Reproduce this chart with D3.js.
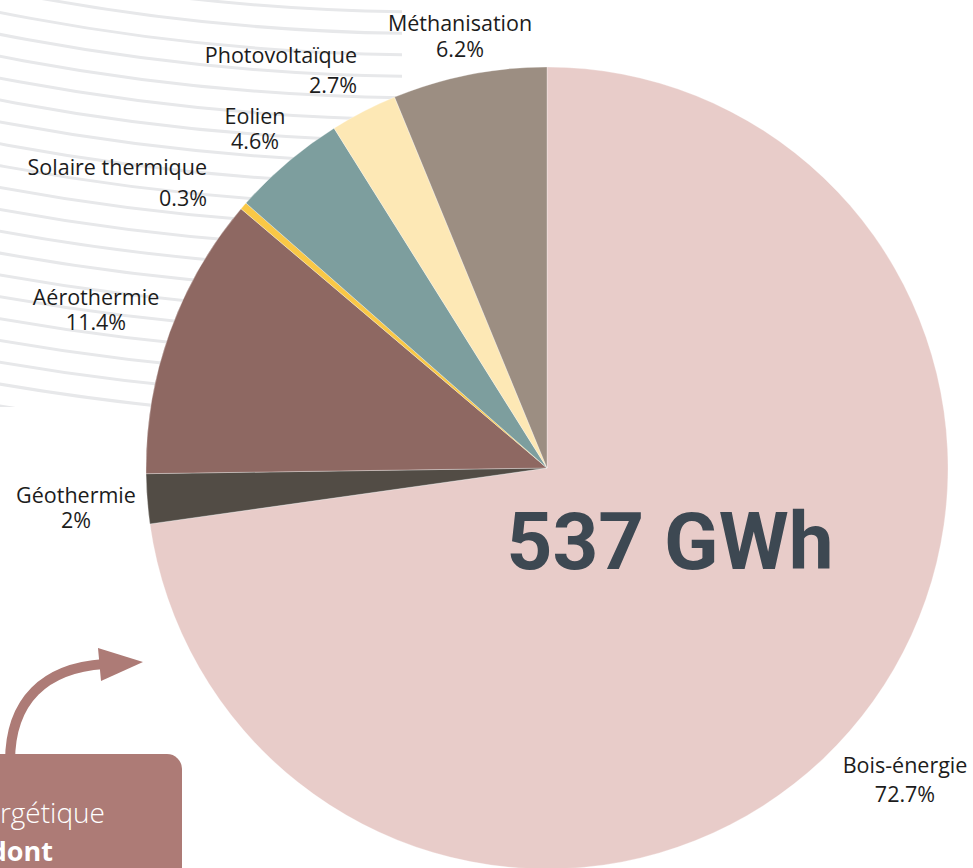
<!DOCTYPE html>
<html lang="fr">
<head>
<meta charset="utf-8">
<title>Production d'énergies renouvelables</title>
<script src="https://cdn.jsdelivr.net/npm/d3@7/dist/d3.min.js"></script>
<style>
  html, body { margin: 0; padding: 0; background: #ffffff; }
  svg { display: block; }
</style>
</head>
<body>
<div id="chart"></div>
<script>
// Renewable energy production by source (share of total, %)
const categories = ["Bois-énergie", "Géothermie", "Aérothermie", "Solaire thermique", "Eolien", "Photovoltaïque", "Méthanisation"];
const shares = [72.7, 2, 11.4, 0.3, 4.6, 2.7, 6.2];
const sliceColors = ["#e8ccc9", "#524c45", "#8e6862", "#f9c846", "#7d9e9e", "#fde8b5", "#9c8e82"];
const totalGWh = 537;

const width = 973, height = 868;
const cx = 547, cy = 468, radius = 401;

// Label placement for each source: anchor point of the name line and text alignment
const labelLayout = {
  "Bois-énergie":      { x: 905, y: 773, anchor: "middle", gap: 29 },
  "Géothermie":        { x: 76,  y: 503, anchor: "middle", gap: 25 },
  "Aérothermie":       { x: 96,  y: 305, anchor: "middle", gap: 25 },
  "Solaire thermique": { x: 207, y: 175, anchor: "end",    gap: 31 },
  "Eolien":            { x: 255, y: 124, anchor: "middle", gap: 25 },
  "Photovoltaïque":    { x: 357, y: 63,  anchor: "end",    gap: 30 },
  "Méthanisation":     { x: 460, y: 31,  anchor: "middle", gap: 26 }
};

const data = categories.map((c, i) => ({ name: c, value: shares[i], color: sliceColors[i] }));

const svg = d3.select("#chart").append("svg")
  .attr("width", width)
  .attr("height", height)
  .attr("viewBox", [0, 0, width, height]);

// Decorative concentric arcs in the upper-left corner
const defs = svg.append("defs");
defs.append("clipPath").attr("id", "deco-clip")
  .append("rect").attr("x", 0).attr("y", 0).attr("width", 402).attr("height", 407);

const decoCx = 430, decoR0 = 2150, decoStep = 21.5, decoTop = 12;
const decoCy = decoTop - decoR0;
const decoRings = d3.range(-3, 25).map(k => decoR0 + k * decoStep);

svg.append("g")
  .attr("clip-path", "url(#deco-clip)")
  .selectAll("circle")
  .data(decoRings)
  .join("circle")
  .attr("cx", decoCx)
  .attr("cy", decoCy)
  .attr("r", d => d)
  .attr("fill", "none")
  .attr("stroke", "#e7e8ea")
  .attr("stroke-width", 3);

// Pie
const pie = d3.pie().sort(null).value(d => d.value);
const arc = d3.arc().innerRadius(0).outerRadius(radius);

const g = svg.append("g").attr("transform", `translate(${cx},${cy})`);
g.selectAll("path")
  .data(pie(data))
  .join("path")
  .attr("d", arc)
  .attr("fill", d => d.data.color)
  .attr("stroke", "#ffffff")
  .attr("stroke-opacity", 0.5)
  .attr("stroke-width", 0.6);

// Total in the middle of the main slice
svg.append("text")
  .attr("x", 670)
  .attr("y", 569)
  .attr("text-anchor", "middle")
  .attr("font-family", "Roboto, 'DejaVu Sans', sans-serif")
  .attr("font-weight", 700)
  .attr("font-size", 80)
  .attr("fill", "#3d4852")
  .text(`${totalGWh} GWh`);

// Slice labels: name and share
const labels = svg.append("g")
  .attr("font-family", "'Open Sans', 'Noto Sans', sans-serif")
  .attr("font-size", 21.5)
  .attr("fill", "#1c1c1c");

data.forEach(d => {
  const L = labelLayout[d.name];
  const t = labels.append("text")
    .attr("text-anchor", L.anchor);
  t.append("tspan").attr("x", L.x).attr("y", L.y).text(d.name);
  t.append("tspan").attr("x", L.x).attr("y", L.y + L.gap).text(`${d.value}%`);
});

// Callout box and curved arrow at the bottom left
const accent = "#ad7b76";
const stem = d3.path();
stem.moveTo(10, 762);
stem.bezierCurveTo(10, 700, 45, 668, 104, 664);
svg.append("path")
  .attr("d", stem.toString())
  .attr("fill", "none")
  .attr("stroke", accent)
  .attr("stroke-width", 10);

const head = d3.path();
head.moveTo(143, 662);
head.lineTo(98, 648);
head.lineTo(101, 681);
head.closePath();
svg.append("path")
  .attr("d", head.toString())
  .attr("fill", accent);

svg.append("rect")
  .attr("x", -40)
  .attr("y", 754)
  .attr("width", 222)
  .attr("height", 160)
  .attr("rx", 15)
  .attr("fill", accent);

svg.append("text")
  .attr("x", 105)
  .attr("y", 823)
  .attr("text-anchor", "end")
  .attr("font-family", "'Open Sans', sans-serif")
  .attr("font-weight", 300)
  .attr("font-size", 28)
  .attr("fill", "#ffffff")
  .text("énergétique");

svg.append("text")
  .attr("x", 53)
  .attr("y", 861)
  .attr("text-anchor", "end")
  .attr("font-family", "'Open Sans', sans-serif")
  .attr("font-weight", 700)
  .attr("font-size", 27)
  .attr("fill", "#ffffff")
  .text("dont");
</script>
</body>
</html>
